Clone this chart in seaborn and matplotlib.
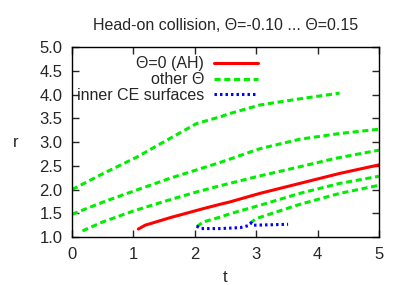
import seaborn as sns
import matplotlib
matplotlib.use("Agg")
import matplotlib.pyplot as plt

# curves
t_ah = [1.08, 1.19, 1.6, 2.14, 2.41, 2.57, 3.06, 3.71, 4.36, 5.0]
r_ah = [1.17, 1.25, 1.41, 1.60, 1.69, 1.74, 1.92, 2.13, 2.34, 2.52]

t_g1 = [0.0, 0.51, 1.05, 1.6, 2.03, 2.41, 2.57, 3.06, 3.71, 4.36]
r_g1 = [2.0, 2.34, 2.68, 3.08, 3.39, 3.53, 3.60, 3.78, 3.91, 4.03]

t_g2 = [0.0, 0.51, 1.05, 1.6, 2.14, 2.41, 3.06, 3.71, 4.36, 5.0]
r_g2 = [1.48, 1.74, 1.99, 2.24, 2.46, 2.57, 2.86, 3.06, 3.18, 3.27]

t_g3 = [0.17, 0.5, 1.0, 1.5, 2.0, 2.41, 3.0, 3.71, 4.3, 5.0]
r_g3 = [1.13, 1.32, 1.55, 1.75, 1.94, 2.08, 2.27, 2.48, 2.66, 2.83]

t_g4 = [2.03, 2.14, 2.41, 2.57, 3.06, 3.71, 4.36, 5.0]
r_g4 = [1.22, 1.32, 1.42, 1.49, 1.67, 1.92, 2.13, 2.28]

t_g5 = [2.9, 3.0, 3.71, 4.36, 5.0]
r_g5 = [1.29, 1.39, 1.69, 1.92, 2.09]

t_ce = [2.03, 2.11, 2.41, 2.74, 2.87, 2.92, 2.95, 3.52]
r_ce = [1.23, 1.18, 1.18, 1.20, 1.24, 1.30, 1.25, 1.27]

sns.set_style("ticks")
plt.rcParams["font.family"] = ["Liberation Sans", "DejaVu Sans"]
fs = 12
fs_txt = 11.5

fig, ax = plt.subplots(figsize=(4.07, 2.85), dpi=100)
fig.subplots_adjust(left=0.177, right=0.931, top=0.835, bottom=0.168)

lw = 2.2
sns.lineplot(x=t_ah, y=r_ah, ax=ax, color="#ff0000", lw=lw, label="Θ=0 (AH)", sort=False)
green = [(t_g1, r_g1), (t_g2, r_g2), (t_g3, r_g3), (t_g4, r_g4), (t_g5, r_g5)]
for i, (tt, rr) in enumerate(green):
    sns.lineplot(x=tt, y=rr, ax=ax, color="#00ee00", lw=lw, sort=False,
                 label="other Θ" if i == 0 else None,
                 linestyle=(0, (2.0, 1.2)))
sns.lineplot(x=t_ce, y=r_ce, ax=ax, color="#0000ff", lw=lw, sort=False,
             label="inner CE surfaces", linestyle=(0, (0.8, 1.0)))

ax.set_xlim(0, 5)
ax.set_ylim(1.0, 5.0)
ax.set_xticks([0, 1, 2, 3, 4, 5])
ax.set_yticks([1.0, 1.5, 2.0, 2.5, 3.0, 3.5, 4.0, 4.5, 5.0])
ax.set_yticklabels(["1.0", "1.5", "2.0", "2.5", "3.0", "3.5", "4.0", "4.5", "5.0"])
ax.tick_params(direction="in", top=True, right=True, labelsize=fs, length=5, width=1, pad=7)
for s in ax.spines.values():
    s.set_linewidth(1)
    s.set_color("black")
ax.set_xlabel("t", fontsize=fs, labelpad=6)
ax.set_ylabel("r", fontsize=fs, rotation=0, labelpad=17, va="center")
ax.set_title("Head-on collision, Θ=-0.10 ... Θ=0.15", fontsize=fs_txt, pad=12.5)

# markerfirst=False puts the labels on the left, right-aligned
ax.legend(loc="upper left", bbox_to_anchor=(-0.005, 0.984), frameon=False,
          markerfirst=False, fontsize=fs_txt, handlelength=2.8,
          labelspacing=0.04, borderaxespad=0.0, handletextpad=0.6)

plt.savefig("out.png", dpi=100)
